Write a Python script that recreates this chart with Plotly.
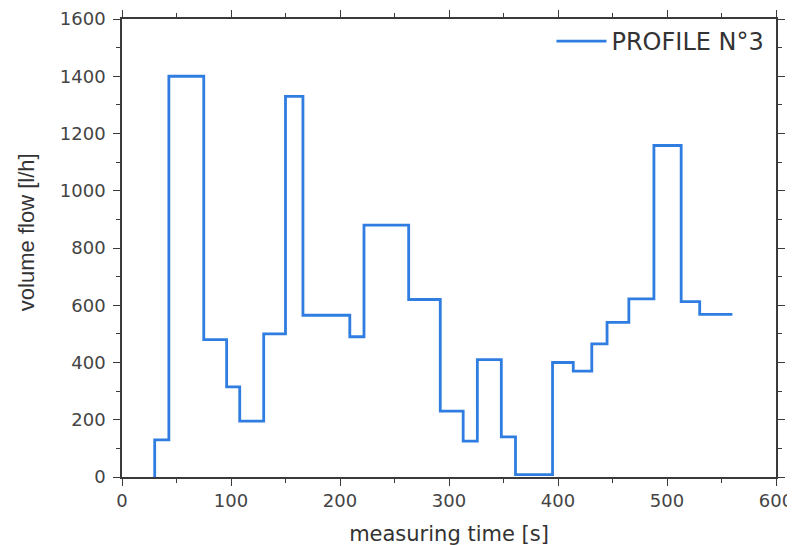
import plotly.graph_objects as go

# step profile: measuring time [s] vs volume flow [l/h]
time_s = [30, 30, 43, 75, 96, 108, 130, 150, 166, 209, 222, 263, 292, 313, 326,
          348, 361, 395, 414, 431, 445, 465, 488, 513, 530, 560]
flow_lh = [0, 130, 1400, 480, 315, 195, 500, 1330, 565, 490, 880, 620, 230, 125, 410,
           140, 8, 400, 370, 465, 540, 622, 1158, 613, 568, 568]

x_ticks = [0, 100, 200, 300, 400, 500, 600]
y_ticks = [0, 200, 400, 600, 800, 1000, 1200, 1400, 1600]

fig = go.Figure()
fig.add_trace(go.Scatter(x=time_s, y=flow_lh,
                         mode='lines',
                         line_shape='hv',
                         line=dict(color='#2f7de1', width=2.8),
                         name='PROFILE N°3'))

axis_style = dict(showline=True, linecolor='#3a3a3a', linewidth=1.5,
                  mirror='allticks', ticks='outside', ticklen=7, tickwidth=1.2,
                  tickcolor='#3a3a3a', showgrid=False, zeroline=False, automargin=False,
                  tickfont=dict(family='DejaVu Sans', size=18, color='#444444'),
                  minor=dict(ticks='outside', ticklen=4, tickwidth=1.2, tickcolor='#3a3a3a'))

fig.update_xaxes(range=[0, 600], tickvals=x_ticks, minor_dtick=50,
                 title=dict(text='measuring time [s]', standoff=16,
                            font=dict(family='DejaVu Sans', size=21, color='#333333')),
                 **axis_style)
fig.update_yaxes(range=[0, 1600], tickvals=y_ticks, minor_dtick=100, ticklabelstandoff=4,
                 **axis_style)

# y title sits a bit above the axis centre in the original, so place it by hand
fig.add_annotation(text='volume flow [l/h]', textangle=-90,
                   xref='paper', yref='paper', x=-0.145, y=0.535,
                   showarrow=False, xanchor='center', yanchor='middle',
                   font=dict(family='Liberation Sans', size=22, color='#333333'))

# page body adds an 8px offset, so margins are shifted to compensate
fig.update_layout(
    width=795, height=545,
    margin=dict(l=114, r=27, t=11, b=76),
    plot_bgcolor='white', paper_bgcolor='white',
    font=dict(family='DejaVu Sans, Arial, sans-serif'),
    showlegend=True,
    legend=dict(x=0.99, y=1.0, xanchor='right', yanchor='top',
                bgcolor='rgba(0,0,0,0)', itemwidth=50,
                font=dict(family='DejaVu Sans', size=24, color='#333333')))

fig.write_html("out.html")
